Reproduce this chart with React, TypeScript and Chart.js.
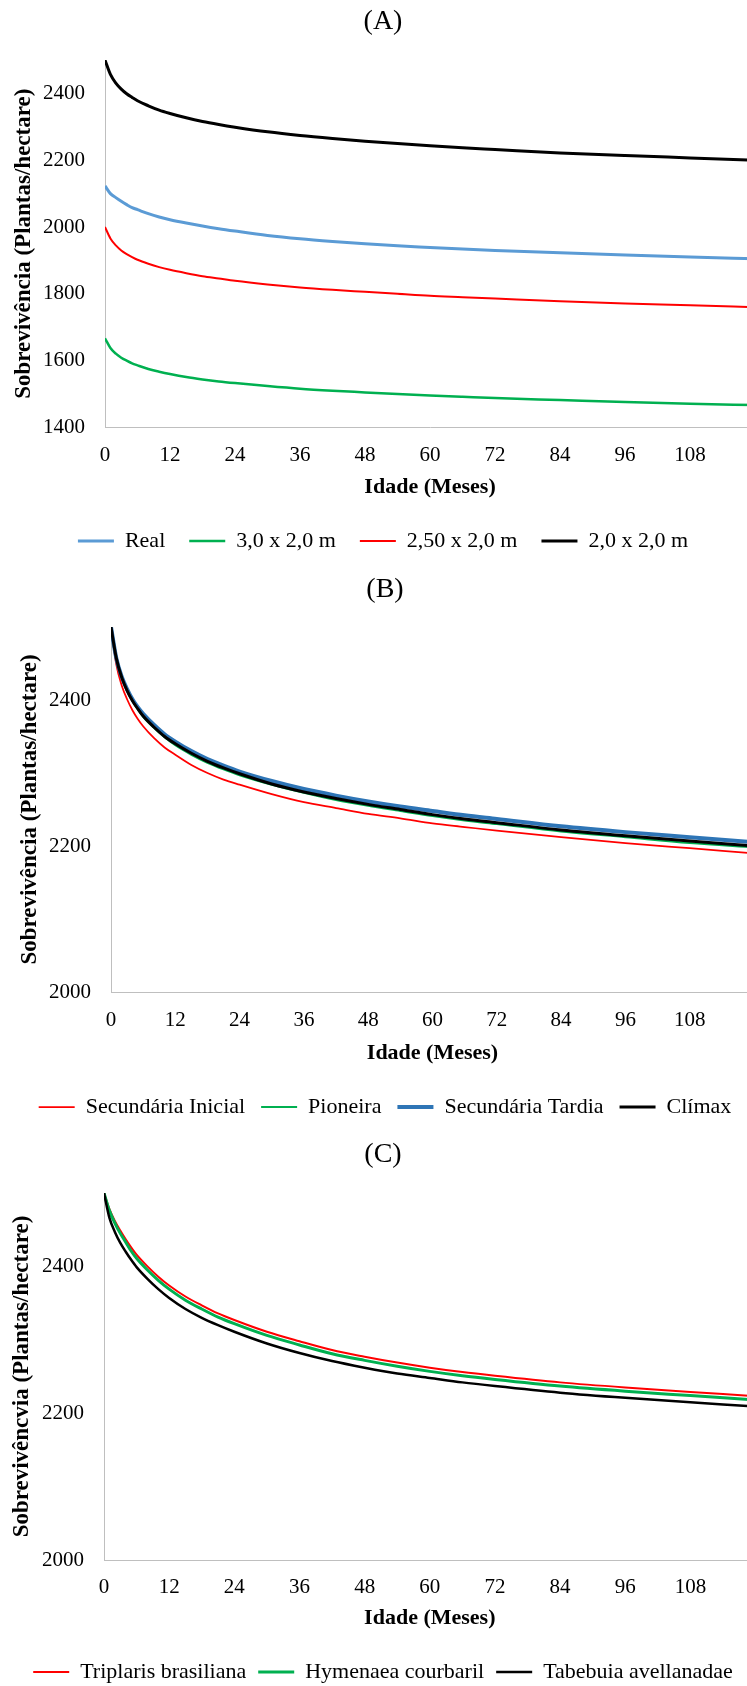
import React, { useEffect, useRef } from 'react';
import { Chart, registerables } from 'chart.js';

Chart.register(...registerables);

// ---------- data ----------
const months = [0, 1, 2, 3, 4, 5, 6, 8, 10, 12, 15, 18, 21, 24, 30, 36, 42, 48, 54, 60, 66, 72, 84, 96, 108, 120];
const xTickValues = [0, 12, 24, 36, 48, 60, 72, 84, 96, 108, 120];
const xTitle = 'Idade (Meses)';
const yTitleAB = 'Sobrevivência (Plantas/hectare)';
const yTitleC = 'Sobrevivêncvia (Plantas/hectare)';

// Panel A
const aLabels = ['Real', '3,0 x 2,0 m', '2,50 x 2,0 m', '2,0 x 2,0 m'];
const aReal = [2123, 2100, 2088, 2077, 2067, 2058, 2052, 2040, 2030, 2022, 2012, 2003, 1995, 1988, 1975, 1965, 1957, 1950, 1944, 1939, 1934, 1930, 1923, 1916, 1910, 1905];
const a3x2 = [1667, 1638, 1621, 1609, 1600, 1592, 1586, 1575, 1567, 1560, 1551, 1544, 1538, 1533, 1524, 1516, 1510, 1505, 1500, 1496, 1492, 1488, 1482, 1476, 1471, 1467];
const a25x2 = [2000, 1966, 1945, 1930, 1919, 1910, 1902, 1890, 1880, 1872, 1862, 1853, 1846, 1839, 1828, 1819, 1812, 1806, 1800, 1794, 1790, 1786, 1778, 1771, 1766, 1760];
const a2x2 = [2500, 2457, 2431, 2413, 2399, 2388, 2378, 2363, 2350, 2340, 2327, 2316, 2307, 2299, 2285, 2274, 2265, 2257, 2250, 2243, 2237, 2232, 2222, 2214, 2207, 2200];
const aYTicks = [1400, 1600, 1800, 2000, 2200, 2400];

// Panel B
const bLabels = ['Secundária Inicial', 'Pioneira', 'Secundária Tardia', 'Clímax'];
const bSecInicial = [2500, 2448, 2420, 2401, 2386, 2374, 2364, 2348, 2335, 2325, 2311, 2300, 2291, 2284, 2271, 2260, 2252, 2244, 2238, 2231, 2226, 2221, 2212, 2204, 2197, 2190];
const bPioneira = [2500, 2456, 2431, 2413, 2399, 2387, 2377, 2362, 2349, 2338, 2325, 2314, 2305, 2297, 2284, 2273, 2263, 2255, 2248, 2241, 2235, 2230, 2220, 2212, 2204, 2198];
const bSecTardia = [2500, 2457, 2432, 2415, 2401, 2390, 2381, 2366, 2353, 2343, 2330, 2319, 2310, 2302, 2289, 2278, 2269, 2261, 2254, 2248, 2242, 2237, 2227, 2219, 2212, 2205];
const bClimax = [2500, 2457, 2431, 2413, 2399, 2388, 2378, 2363, 2350, 2340, 2327, 2316, 2307, 2299, 2285, 2274, 2265, 2257, 2250, 2243, 2237, 2232, 2222, 2214, 2207, 2200];
const bcYTicks = [2000, 2200, 2400];

// Panel C
const cLabels = ['Triplaris brasiliana', 'Hymenaea courbaril', 'Tabebuia avellanadae'];
const cTriplaris = [2500, 2478, 2462, 2449, 2437, 2426, 2416, 2400, 2386, 2374, 2359, 2347, 2336, 2327, 2311, 2298, 2286, 2277, 2269, 2262, 2256, 2251, 2242, 2235, 2229, 2223];
const cHymenaea = [2500, 2476, 2459, 2445, 2433, 2421, 2411, 2395, 2381, 2369, 2354, 2342, 2331, 2322, 2306, 2293, 2281, 2272, 2264, 2257, 2251, 2246, 2237, 2230, 2224, 2218];
const cTabebuia = [2500, 2466, 2447, 2432, 2420, 2409, 2399, 2383, 2369, 2357, 2342, 2330, 2320, 2311, 2295, 2282, 2271, 2262, 2254, 2248, 2242, 2237, 2228, 2221, 2215, 2209];

// ---------- styles ----------
const FONT = "'Liberation Serif', 'Times New Roman', serif";
const CANVAS_W = 770;
const TITLE_FONT = 28;
const TICK_FONT = 21;
const LEGEND_FONT = 22;
const XT_FONT = 22;
const YT_FONT = 23;
const AXIS_COLOR = '#BFBFBF';
const RED = '#FF0000';
const GREEN = '#00B050';
const LIGHTBLUE = '#5B9BD5';
const DARKBLUE = '#2E75B6';
const BLACK = '#000000';

type Geo = {
  top: number; height: number; padLeft: number; axisX: number; plotRight: number;
  plotTop: number; plotBottom: number; titleCY: number; xTickCY: number; xTitleCY: number;
  legendCY: number; yTitleCX: number; legendP: number;
};

type Panel = {
  title: string; labels: string[]; series: number[][]; colors: string[]; widths: number[];
  yMin: number; yMax: number; yTicks: number[]; yTitle: string; geo: Geo;
};

const panels: Panel[] = [
  {
    title: '(A)', labels: aLabels, series: [aReal, a3x2, a25x2, a2x2],
    colors: [LIGHTBLUE, GREEN, RED, BLACK], widths: [3, 2.5, 2, 3],
    yMin: 1400, yMax: 2500, yTicks: aYTicks, yTitle: yTitleAB,
    geo: { top: 0, height: 565, padLeft: 10, axisX: 105, plotRight: 756, plotTop: 60, plotBottom: 427.5, titleCY: 22, xTickCY: 455, xTitleCY: 487, legendCY: 541, yTitleCX: 24, legendP: 24 },
  },
  {
    title: '(B)', labels: bLabels, series: [bSecInicial, bPioneira, bSecTardia, bClimax],
    colors: [RED, GREEN, DARKBLUE, BLACK], widths: [1.75, 2, 4, 3],
    yMin: 2000, yMax: 2500, yTicks: bcYTicks, yTitle: yTitleAB,
    geo: { top: 565, height: 563, padLeft: 16, axisX: 111, plotRight: 754, plotTop: 627, plotBottom: 992, titleCY: 590, xTickCY: 1020, xTitleCY: 1053, legendCY: 1107, yTitleCX: 30, legendP: 16 },
  },
  {
    title: '(C)', labels: cLabels, series: [cTriplaris, cHymenaea, cTabebuia],
    colors: [RED, GREEN, BLACK], widths: [2, 3, 2.5],
    yMin: 2000, yMax: 2500, yTicks: bcYTicks, yTitle: yTitleC,
    geo: { top: 1128, height: 565, padLeft: 8, axisX: 104, plotRight: 758, plotTop: 1193, plotBottom: 1560, titleCY: 1155, xTickCY: 1587, xTitleCY: 1618, legendCY: 1672, yTitleCX: 22.5, legendP: 12 },
  },
];

function PanelChart({ p }: { p: Panel }) {
  const ref = useRef<HTMLCanvasElement>(null);
  useEffect(() => {
    const g = p.geo;
    const W = CANVAS_W;
    const H = g.height;
    const loc = (y: number) => y - g.top;
    const plotTop = loc(g.plotTop);
    const plotBottom = loc(g.plotBottom);
    const titleCY = loc(g.titleCY);
    const legendCY = loc(g.legendCY);
    const xTickCY = loc(g.xTickCY);
    const xTitleCY = loc(g.xTitleCY);
    const legendTop = legendCY - g.legendP - LEGEND_FONT / 2;
    const xAxisH = legendTop - plotBottom;
    const legendH = LEGEND_FONT + g.legendP + 10;
    const padBottom = H - (legendTop + legendH);

    const chart = new Chart(ref.current as HTMLCanvasElement, {
      type: 'line',
      data: {
        datasets: p.series.map((vals, i) => ({
          label: p.labels[i],
          data: months.map((m, j) => ({ x: m, y: vals[j] })),
          borderColor: p.colors[i],
          backgroundColor: p.colors[i],
          borderWidth: p.widths[i],
          pointRadius: 0,
          pointHoverRadius: 0,
          cubicInterpolationMode: 'monotone',
          fill: false,
          order: p.series.length - 1 - i,
        })),
      },
      options: {
        responsive: false,
        animation: false,
        events: [],
        layout: { padding: { left: g.padLeft, right: W - g.plotRight, top: 0, bottom: padBottom } },
        plugins: {
          title: {
            display: true,
            text: p.title,
            color: '#000',
            font: { family: FONT, size: TITLE_FONT, weight: 'normal' },
            padding: { top: titleCY - TITLE_FONT * 0.6, bottom: plotTop - titleCY - TITLE_FONT * 0.6 },
          },
          legend: {
            display: true,
            position: 'bottom',
            labels: {
              usePointStyle: true,
              pointStyle: 'line',
              pointStyleWidth: 36,
              color: '#000',
              font: { family: FONT, size: LEGEND_FONT },
              padding: g.legendP,
              sort: (a: any, b: any) => a.datasetIndex - b.datasetIndex,
            },
          },
          tooltip: { enabled: false },
        },
        scales: {
          x: {
            type: 'linear',
            min: 0,
            max: 120,
            afterBuildTicks: (s: any) => { s.ticks = xTickValues.map((v) => ({ value: v })); },
            afterFit: (s: any) => { s.height = xAxisH; },
            grid: { display: false, drawTicks: false },
            border: { display: true, color: AXIS_COLOR, width: 1 },
            ticks: {
              autoSkip: false,
              maxRotation: 0,
              minRotation: 0,
              padding: xTickCY - plotBottom - TICK_FONT * 0.6,
              color: '#000',
              font: { family: FONT, size: TICK_FONT },
              callback: (v: any) => (Number(v) === 120 ? '' : String(v)),
            },
            title: {
              display: true,
              text: xTitle,
              color: '#000',
              font: { family: FONT, size: XT_FONT, weight: 'bold' },
              padding: { top: 0, bottom: plotBottom + xAxisH - xTitleCY - XT_FONT * 0.6 },
            },
          },
          y: {
            type: 'linear',
            min: p.yMin,
            max: p.yMax,
            afterBuildTicks: (s: any) => { s.ticks = p.yTicks.map((v) => ({ value: v })); },
            afterFit: (s: any) => { s.width = g.axisX - g.padLeft; },
            grid: { display: false, drawTicks: false },
            border: { display: true, color: AXIS_COLOR, width: 1 },
            ticks: {
              padding: 20,
              color: '#000',
              font: { family: FONT, size: TICK_FONT },
              callback: (v: any) => String(v),
            },
            title: {
              display: true,
              text: p.yTitle,
              color: '#000',
              font: { family: FONT, size: YT_FONT, weight: 'bold' },
              padding: { top: g.yTitleCX - g.padLeft - YT_FONT * 0.6, bottom: 0 },
            },
          },
        },
      } as any,
    });
    return () => chart.destroy();
  }, [p]);

  return (
    <canvas
      ref={ref}
      width={CANVAS_W}
      height={p.geo.height}
      style={{ position: 'absolute', left: 0, top: p.geo.top, width: CANVAS_W, height: p.geo.height }}
    />
  );
}

export default function App() {
  return (
    <div
      style={{
        position: 'absolute', left: 0, top: 0, width: 747, height: 1686,
        overflow: 'hidden', background: '#fff',
      }}
    >
      {panels.map((p, i) => (
        <PanelChart key={i} p={p} />
      ))}
    </div>
  );
}
